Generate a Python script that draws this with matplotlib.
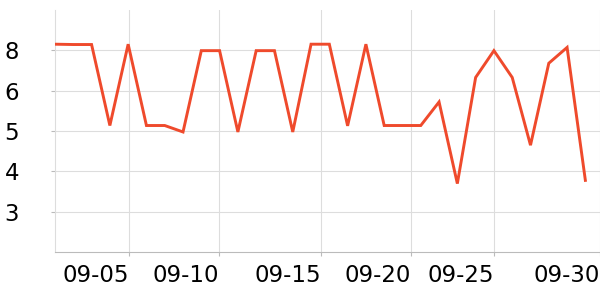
import matplotlib
matplotlib.use("Agg")
import matplotlib.pyplot as plt
from matplotlib.ticker import FormatStrFormatter

# Data (one point per day, 09-01 .. 09-30)
days = list(range(30))
values = [7.94, 7.93, 7.93, 5.42, 7.94, 5.42, 5.42, 5.22, 7.74, 7.74,
          5.22, 7.74, 7.74, 5.22, 7.94, 7.94, 5.41, 7.94, 5.42, 5.42,
          5.42, 6.15, 3.62, 6.91, 7.74, 6.91, 4.81, 7.35, 7.84, 3.72]

# Axis ticks
x_tick_pos = [4.05, 8.97, 14.55, 19.47, 24.02, 29.8]
x_tick_labels = ["09-05", "09-10", "09-15", "09-20", "09-25", "09-30"]
y_ticks = [2.75, 4.0, 5.25, 6.5, 7.75]

fig = plt.figure(figsize=(6, 3), dpi=100)
ax = fig.add_axes([55/600, 1 - 252/300, 1 - 55/600, (252 - 10)/300])

ax.plot(days, values, color="#ef4a2c", linewidth=2.1, solid_joinstyle="miter", zorder=3)

ax.set_xlim(0, 29.8)
ax.set_ylim(1.5, 9.0)

ax.set_xticks(x_tick_pos)
ax.set_xticklabels(x_tick_labels, ha="right")
ax.set_yticks(y_ticks)
ax.yaxis.set_major_formatter(FormatStrFormatter("%.0f"))

ax.grid(True, color="#dddddd", linewidth=0.8)
ax.set_axisbelow(True)

for s in ["top", "right"]:
    ax.spines[s].set_visible(False)
ax.spines["left"].set_color("#dddddd")
ax.spines["left"].set_linewidth(0.8)
ax.spines["bottom"].set_color("#bbbbbb")
ax.spines["bottom"].set_linewidth(0.8)

ax.tick_params(axis="x", colors="#bbbbbb", labelcolor="black", labelsize=16.5,
               length=3, width=0.8, pad=6)
ax.tick_params(axis="y", colors="#bbbbbb", labelcolor="black", labelsize=16.5,
               length=3, width=0.8, pad=23)

fig.savefig("out.png", dpi=100)
